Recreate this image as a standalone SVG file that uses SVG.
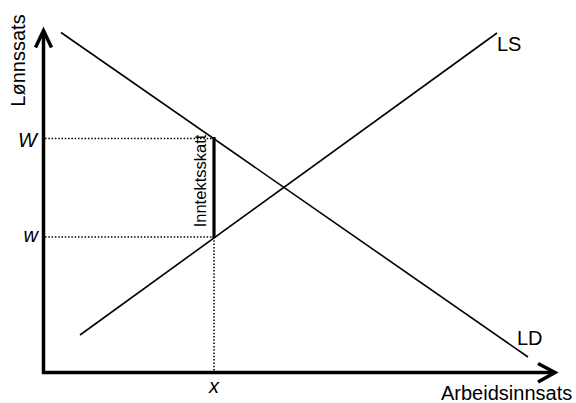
<svg xmlns="http://www.w3.org/2000/svg" width="576" height="403" viewBox="0 0 576 403">
<style>
.axis{fill:none;stroke:#000;stroke-width:3.5;stroke-linecap:butt;stroke-linejoin:miter}
.curve{fill:none;stroke:#000;stroke-width:1.6}
.dot{fill:none;stroke:#000;stroke-width:1.5;stroke-dasharray:1.5 1.8}
.tax{fill:none;stroke:#000;stroke-width:3.2}
text{font-family:"Liberation Sans",Arial,sans-serif;fill:#000}
.lbl{font-size:20px}
.it{font-size:20px;font-style:italic}
</style>
<rect width="576" height="403" fill="#fff"/>
<g id="axes">
<polyline class="axis" points="43.5,32 43.5,372.5 553,372.5"/>
<polyline class="axis" points="35.5,47.5 43.5,30.5 51.5,47.5"/>
<polyline class="axis" points="538,363.5 555,372.5 538,382"/>
</g>
<g id="connectors">
<line class="dot" x1="45" y1="138.5" x2="213" y2="138.5"/>
<line class="dot" x1="45" y1="237" x2="213" y2="237"/>
<line class="dot" x1="214" y1="237" x2="214" y2="371"/>
</g>
<g id="LD">
<line class="curve" x1="61" y1="32.5" x2="528" y2="357"/>
<text class="lbl" x="517" y="345">LD</text>
</g>
<g id="LS">
<line class="curve" x1="80" y1="335" x2="497" y2="33"/>
<text class="lbl" x="497" y="51">LS</text>
</g>
<g id="tax">
<line class="tax" x1="214" y1="137" x2="214" y2="238"/>
<text x="0" y="0" font-size="16.5" text-anchor="middle" transform="translate(205.5,181) rotate(-90)">Inntektsskatt</text>
</g>
<g id="labels">
<text x="0" y="0" class="lbl" text-anchor="middle" transform="translate(25,60.5) rotate(-90)">Lønnssats</text>
<text class="lbl" x="441" y="400">Arbeidsinnsats</text>
<text class="it" x="37" y="146.5" text-anchor="end">W</text>
<text class="it" x="38" y="241.5" text-anchor="end">w</text>
<text class="it" x="214" y="393" text-anchor="middle" font-size="17">x</text>
</g>
</svg>
